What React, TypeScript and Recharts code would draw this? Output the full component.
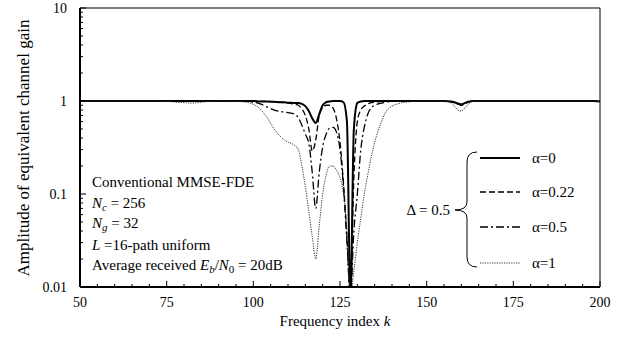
import React from 'react';
import { LineChart, Line, XAxis, YAxis, ReferenceLine } from 'recharts';

// frequency index k (sampled where the curves change)
const kIndex = [
  50, 55, 60, 65, 70, 75, 78, 80, 82, 84,
  86, 88, 90, 95, 98, 100, 102, 104, 106, 108,
  109, 110, 111, 112, 113, 114, 115, 116, 117, 118,
  119, 120, 121, 122, 123, 124, 125, 126, 127, 128,
  129, 130, 131, 132, 133, 134, 135, 136, 137, 138,
  139, 140, 142, 145, 148, 150, 153, 155, 157, 158,
  159, 160, 161, 162, 163, 165, 170, 175, 180, 185,
  190, 195, 198, 200,
];

const alpha0 = [
  1, 1, 1, 1, 1, 1, 1, 1, 1, 1,
  1, 1, 1, 1, 1, 1, 0.99, 0.99, 0.98, 0.97,
  0.97, 0.96, 0.96, 0.95, 0.95, 0.93, 0.88, 0.78, 0.65, 0.58,
  0.72, 0.9, 0.97, 0.99, 1, 1, 1, 0.97, 0.6, 0.008,
  0.5, 0.95, 0.99, 1, 1, 1, 1, 1, 1, 1,
  1, 1, 1, 1, 1, 1, 1, 1, 0.99, 0.97,
  0.94, 0.92, 0.95, 0.98, 1, 1, 1, 1, 1, 1,
  1, 1, 1, 0.99,
];

const alpha022 = [
  1, 1, 1, 1, 1, 1, 1, 1, 1, 1,
  1, 1, 1, 1, 1, 1, 0.99, 0.99, 0.98, 0.97,
  0.96, 0.95, 0.94, 0.92, 0.9, 0.82, 0.7, 0.5, 0.29, 0.38,
  0.7, 0.85, 0.9, 0.9, 0.84, 0.64, 0.36, 0.13, 0.035, 0.008,
  0.15, 0.6, 0.8, 0.88, 0.93, 0.96, 0.97, 0.98, 0.99, 1,
  1, 1, 1, 1, 1, 1, 1, 1, 0.98, 0.96,
  0.93, 0.91, 0.94, 0.97, 0.99, 1, 1, 1, 1, 1,
  1, 1, 1, 0.99,
];

const alpha05 = [
  1, 1, 1, 1, 1, 1, 1, 0.99, 0.99, 0.99,
  1, 1, 1, 1, 0.99, 0.97, 0.93, 0.86, 0.8, 0.77,
  0.76, 0.75, 0.74, 0.72, 0.66, 0.55, 0.44, 0.35, 0.17, 0.07,
  0.17, 0.32, 0.44, 0.51, 0.52, 0.46, 0.3, 0.12, 0.03, 0.008,
  0.04, 0.1, 0.3, 0.52, 0.72, 0.84, 0.9, 0.93, 0.95, 0.97,
  0.98, 0.99, 1, 1, 1, 1, 1, 1, 0.98, 0.96,
  0.93, 0.9, 0.93, 0.97, 0.99, 1, 1, 1, 1, 1,
  1, 1, 1, 0.99,
];

const alpha1 = [
  1, 1, 1, 1, 1, 0.99, 0.97, 0.96, 0.95, 0.96,
  0.98, 0.99, 1, 0.99, 0.97, 0.92, 0.82, 0.66, 0.5, 0.41,
  0.38, 0.36, 0.35, 0.33, 0.3, 0.2, 0.12, 0.065, 0.035, 0.02,
  0.045, 0.1, 0.16, 0.2, 0.2, 0.18, 0.15, 0.1, 0.04, 0.008,
  0.015, 0.03, 0.055, 0.1, 0.16, 0.25, 0.36, 0.48, 0.6, 0.74,
  0.83, 0.88, 0.94, 0.98, 1, 1, 1, 1, 0.96, 0.88,
  0.8, 0.78, 0.84, 0.92, 0.98, 1, 1, 1, 1, 1,
  1, 1, 1, 0.99,
];

const xTicks = [
  50, 55, 60, 65, 70, 75, 80, 85, 90, 95, 100, 105, 110, 115, 120, 125,
  130, 135, 140, 145, 150, 155, 160, 165, 170, 175, 180, 185, 190, 195, 200,
];
const xLabels = [50, 75, 100, 125, 150, 175, 200];

const yTicks = [
  0.01, 0.02, 0.03, 0.04, 0.05, 0.06, 0.07, 0.08, 0.09,
  0.1, 0.2, 0.3, 0.4, 0.5, 0.6, 0.7, 0.8, 0.9,
  1, 2, 3, 4, 5, 6, 7, 8, 9, 10,
];
const yLabels = ['0.01', '0.1', '1', '10'];

const series = [
  { key: 'a0', label: 'α=0', values: alpha0, width: 2, dash: undefined as string | undefined, color: '#000' },
  { key: 'a022', label: 'α=0.22', values: alpha022, width: 1.3, dash: '6 3', color: '#000' },
  { key: 'a05', label: 'α=0.5', values: alpha05, width: 1.3, dash: '8 3 2 3', color: '#000' },
  { key: 'a1', label: 'α=1', values: alpha1, width: 1, dash: '1.2 1.2', color: '#333' },
];

const data = kIndex.map((k, i) => {
  const row: Record<string, number> = { k };
  series.forEach(s => { row[s.key] = s.values[i]; });
  return row;
});

const serif = { fontFamily: "'Liberation Serif', 'Times New Roman', serif" };

const XTick = (props: any) => {
  const { x, y, payload } = props;
  const major = xLabels.includes(payload.value);
  return (
    <g>
      <line x1={x} x2={x} y1={y} y2={y - (major ? 6 : 3)} stroke="#000" strokeWidth={1} />
      {major && (
        <text x={x} y={y + 20} textAnchor="middle" style={serif} fontSize={14} fill="#000">
          {payload.value}
        </text>
      )}
    </g>
  );
};

const YTick = (props: any) => {
  const { x, y, payload } = props;
  const lg = Math.log10(payload.value);
  const major = Math.abs(lg - Math.round(lg)) < 1e-9;
  const label = yLabels[Math.round(lg) + 2];
  return (
    <g>
      <line x1={x} x2={x + (major ? 6 : 3)} y1={y} y2={y} stroke="#000" strokeWidth={1} />
      {major && (
        <text x={x - 13} y={y} dy="0.35em" textAnchor="end" style={serif} fontSize={14} fill="#000">
          {label}
        </text>
      )}
    </g>
  );
};

const Overlay = () => {
  const legendY = [158, 192, 227, 263];
  return (
    <svg width={638} height={340} style={{ position: 'absolute', left: 0, top: 0, pointerEvents: 'none', ...serif }}>
      <text transform="translate(29,148) rotate(-90)" textAnchor="middle" fontSize={17}>
        Amplitude of equivalent channel gain
      </text>
      <text x={335} y={326} textAnchor="middle" fontSize={15}>
        Frequency index <tspan fontStyle="italic">k</tspan>
      </text>

      <g fontSize={15} fill="#000">
        <text x={92} y={187}>Conventional MMSE-FDE</text>
        <text x={92} y={208}>
          <tspan fontStyle="italic">N</tspan>
          <tspan fontStyle="italic" fontSize={11} dy={3}>c</tspan>
          <tspan dy={-3}> = 256</tspan>
        </text>
        <text x={92} y={228}>
          <tspan fontStyle="italic">N</tspan>
          <tspan fontStyle="italic" fontSize={11} dy={3}>g</tspan>
          <tspan dy={-3}> = 32</tspan>
        </text>
        <text x={92} y={250}>
          <tspan fontStyle="italic">L</tspan> =16-path uniform
        </text>
        <text x={92} y={270}>
          Average received <tspan fontStyle="italic">E</tspan>
          <tspan fontStyle="italic" fontSize={11} dy={3}>b</tspan>
          <tspan dy={-3}>/</tspan>
          <tspan fontStyle="italic">N</tspan>
          <tspan fontSize={11} dy={3}>0</tspan>
          <tspan dy={-3}> = 20dB</tspan>
        </text>
      </g>

      <g fontSize={15} fill="#000">
        <text x={450} y={215} textAnchor="end">Δ = 0.5</text>
        <path
          d="M477,152 Q467,152 467,162 L467,202 Q467,210 455,210 Q467,210 467,218 L467,257 Q467,267 477,267"
          fill="none"
          stroke="#000"
          strokeWidth={1}
        />
        {series.map((s, i) => (
          <g key={s.key}>
            <line
              x1={480}
              x2={520}
              y1={legendY[i]}
              y2={legendY[i]}
              stroke={s.color}
              strokeWidth={s.width}
              strokeDasharray={s.dash}
            />
            <text x={532} y={legendY[i] + 5}>{s.label}</text>
          </g>
        ))}
      </g>
    </svg>
  );
};

export default function App() {
  return (
    <div style={{ position: 'absolute', left: 0, top: 0, width: 638, height: 340, background: '#fff' }}>
      <LineChart width={638} height={340} data={data} margin={{ top: 8, right: 38, bottom: 23, left: 0 }}>
        <XAxis
          dataKey="k"
          type="number"
          domain={[50, 200]}
          ticks={xTicks}
          interval={0}
          tick={<XTick />}
          tickLine={false}
          tickSize={0}
          tickMargin={0}
          height={30}
          axisLine={{ stroke: '#000', strokeWidth: 2 }}
        />
        <YAxis
          type="number"
          scale="log"
          domain={[0.01, 10]}
          allowDataOverflow
          ticks={yTicks}
          interval={0}
          tick={<YTick />}
          tickLine={false}
          tickSize={0}
          tickMargin={0}
          width={80}
          axisLine={{ stroke: '#000', strokeWidth: 2 }}
        />
        <ReferenceLine y={10} stroke="#000" strokeWidth={1} />
        <ReferenceLine x={200} stroke="#000" strokeWidth={1} />
        {series.map(s => (
          <Line
            key={s.key}
            dataKey={s.key}
            type="monotone"
            stroke={s.color}
            strokeWidth={s.width}
            strokeDasharray={s.dash}
            dot={false}
            activeDot={false}
            isAnimationActive={false}
          />
        ))}
      </LineChart>
      <Overlay />
    </div>
  );
}
